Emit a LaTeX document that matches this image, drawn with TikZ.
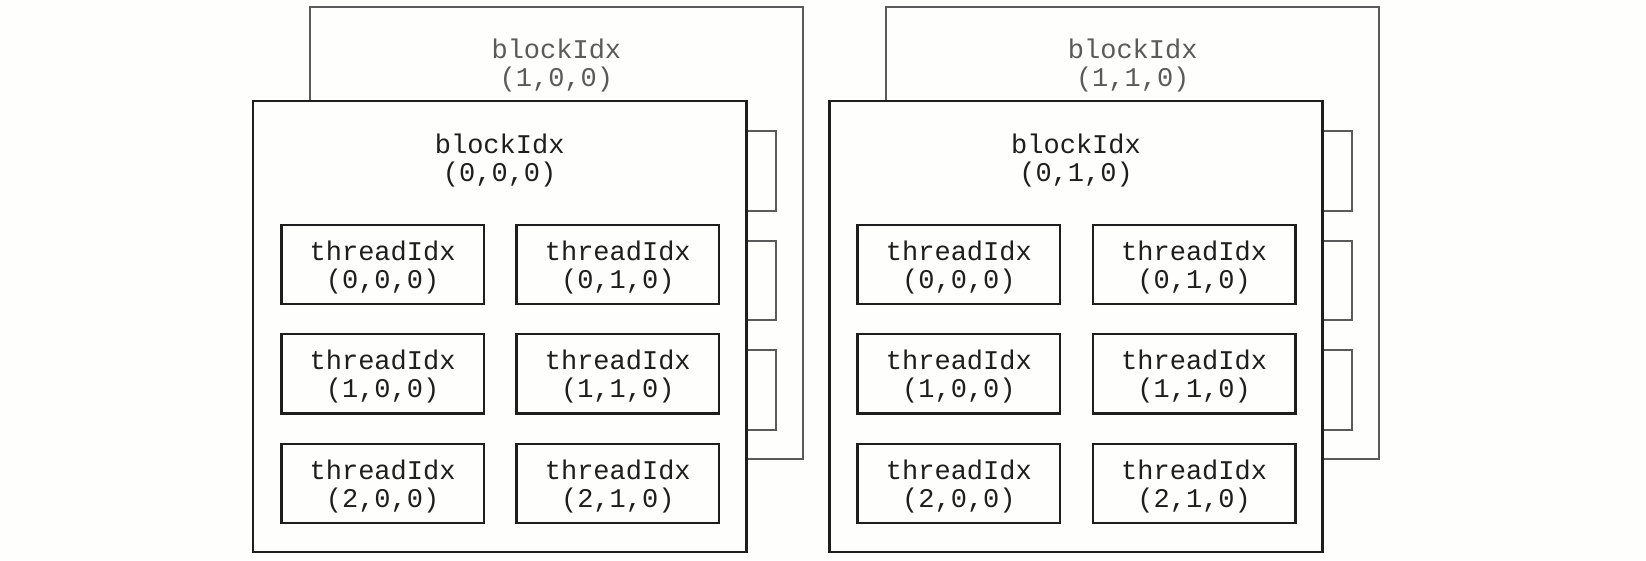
\documentclass[tikz,border=0pt]{standalone}
\usepackage{fontspec}
\newfontfamily\codefont{Liberation Mono}
\definecolor{fg}{HTML}{1E1E1E}
\definecolor{bk}{HTML}{5A5A5A}
\definecolor{paper}{HTML}{FEFEFC}
\begin{document}
\begin{tikzpicture}[x=1pt,y=-1pt,
  code/.style={font=\codefont\fontsize{27}{28}\selectfont},
  frontblock/.style={draw=fg, line width=2.4pt, fill=paper, minimum width=493.3pt, minimum height=451.3pt, inner sep=0pt},
  backblock/.style={draw=bk, line width=2pt, fill=paper, minimum width=493.3pt, minimum height=451.3pt, inner sep=0pt},
  thread/.style={draw=fg, line width=2.4pt, fill=paper, minimum width=202.6pt, minimum height=79.3pt, inner sep=0pt},
  threadtext/.style={code, align=center, text=fg, inner sep=0pt, yshift=-3pt},
  backthread/.style={draw=bk, line width=2pt, fill=paper, minimum width=202.6pt, minimum height=79.3pt, inner sep=0pt},
  blocklabel/.style={code, align=center, text=fg, inner sep=0pt},
  backlabel/.style={code, align=center, text=bk, inner sep=0pt}]
\useasboundingbox (0,0) rectangle (1646,560);
\fill[paper] (0,0) rectangle (1646,560);
\foreach \g/\dx/\j in {L/0/0, R/576.3/1} {
  % back block
  \node[backblock] (\g-back) at (556.4+\dx,233.0) {};
  \foreach \r/\y in {0/171.0, 1/280.2, 2/389.9}
    \node[backthread] (\g-bt\r) at (674.5+\dx,\y) {};
  \node[backlabel] (\g-blabel) at (556.4+\dx,66.0) {blockIdx\\(1,\j,0)};
  % front block
  \node[frontblock] (\g-front) at (499.7+\dx,326.5) {};
  \node[blocklabel] (\g-flabel) at (499.7+\dx,160.5) {blockIdx\\(0,\j,0)};
  \foreach \r/\y in {0/264.5, 1/373.7, 2/483.4}
    \foreach \c/\x in {0/382.6, 1/617.8}
      \node[thread, label={[threadtext]center:threadIdx\\(\r,\c,0)}] (\g-t\r\c) at (\x+\dx,\y) {};
}
\end{tikzpicture}
\end{document}
